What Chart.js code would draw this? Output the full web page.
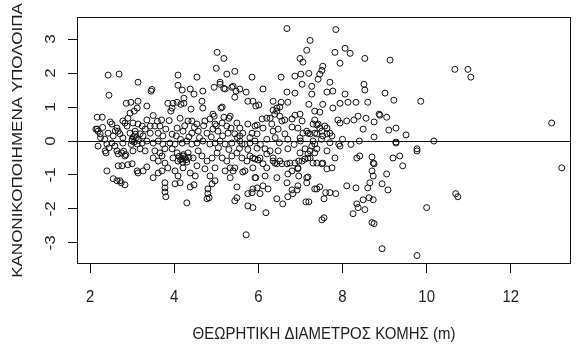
<!DOCTYPE html>
<html>
<head>
<meta charset="utf-8">
<script src="https://cdn.jsdelivr.net/npm/chart.js@4"></script>
<style>
  body { margin: 0; background: #fff; }
  canvas { display: block; }
</style>
</head>
<body>
<canvas id="myChart" width="576" height="347"></canvas>
<script>
// δεδομένα: διάμετρος κόμης (m) και κανονικοποιημένα υπόλοιπα, διαβασμένα από το γράφημα
const diameter = [
  2.43,2.69,2.45,3.14,3.45,3.47,2.86,2.97,3.14,3.35,2.17,2.29,4.09,4.09,4.19,4.38,4.47,4.54,4.68,4.66,
  3.85,3.97,4.07,4.16,4.23,3.92,4.40,4.23,5.02,5.18,5.00,5.09,5.18,4.95,5.25,5.44,5.37,5.47,5.44,5.11,
  4.95,5.18,5.30,
  2.95,3.05,3.12,2.90,2.78,2.48,2.52,2.14,2.19,2.64,2.67,2.83,2.88,3.02,3.14,3.24,3.31,3.43,3.54,3.66,
  2.43,2.55,2.71,2.78,2.95,3.07,3.19,3.26,3.43,3.62,3.73,2.19,2.40,2.52,2.59,2.78,3.00,3.12,3.24,3.35,
  3.50,3.62,3.73,2.36,2.64,2.67,2.83,3.02,3.19,3.31,3.54,3.66,3.78,3.50,3.62,3.71,3.78,2.67,2.76,2.90,
  3.00,3.12,3.14,3.26,3.35,2.40,3.50,3.62,3.71,2.55,2.64,2.71,2.83,3.78,3.78,3.78,3.80,
  5.85,5.09,5.21,5.40,5.56,5.71,3.95,4.68,5.14,4.92,5.33,5.75,5.87,5.94,4.14,4.33,4.42,4.54,4.73,4.85,
  4.97,5.14,5.25,5.49,5.56,5.75,5.92,4.07,4.21,4.42,4.57,4.78,4.92,5.04,5.28,5.44,5.63,5.85,5.97,3.90,
  4.02,4.19,4.30,4.42,4.54,4.68,4.85,4.97,5.09,5.21,5.37,5.56,5.68,5.80,5.92,3.95,4.07,3.97,4.09,4.21,
  4.33,4.45,4.57,4.66,4.78,4.90,5.02,5.14,5.25,5.37,5.49,5.61,5.73,5.80,5.92,3.85,4.02,4.21,4.38,4.54,
  4.73,4.97,5.21,5.44,5.68,5.87,4.09,4.50,4.85,5.33,5.92,4.02,4.38,4.80,4.97,5.49,5.87,4.80,4.78,5.49,
  5.44,5.75,5.87,4.30,2.74,4.14,4.47,4.83,4.90,
  6.68,7.84,7.23,7.15,6.99,7.06,7.82,8.06,8.18,7.94,8.53,9.13,6.54,6.87,7.01,7.20,7.46,7.51,7.53,7.04,
  7.27,7.42,7.70,7.63,7.77,8.06,8.51,8.53,9.01,9.22,6.11,6.68,6.87,7.27,6.01,6.35,6.54,6.70,7.20,7.34,
  7.46,7.53,7.77,7.94,8.13,8.32,8.60,7.89,8.10,8.27,8.37,8.56,8.75,8.87,9.05,8.49,8.75,9.10,9.27,6.35,
  6.44,6.51,6.39,6.51,6.87,6.99,6.63,6.80,6.94,7.34,7.39,7.46,7.63,7.70,7.75,7.34,7.23,7.06,6.99,6.09,
  6.20,5.97,6.11,6.35,6.47,6.63,5.56,5.61,9.27,9.27,
  9.20,9.36,8.34,8.41,8.70,8.73,8.75,8.70,8.73,8.65,8.94,9.05,9.08,8.10,8.32,8.60,8.63,8.73,8.49,8.34,
  8.37,8.53,8.25,8.70,8.75,8.94,5.71,7.51,7.56,7.13,7.20,7.56,6.18,5.75,5.85,6.04,5.97,6.11,6.23,6.44,
  6.58,6.70,6.82,6.94,6.92,7.15,7.18,7.39,7.46,7.60,7.70,7.84,6.80,5.94,6.16,6.44,6.70,6.80,6.94,7.15,
  6.96,6.44,6.51,6.68,6.87,6.96,7.11,7.23,7.39,7.53,7.63,7.75,7.82,7.91,7.39,7.63,7.11,6.99,7.18,7.27,
  7.34,6.28,6.35,6.39,6.20,6.11,5.99,5.87,5.63,5.40,5.33,
  10.67,10.98,11.05,9.86,8.89,9.51,12.97,10.17,9.77,9.77,9.43,10.00,10.69,10.74,13.21,9.77,
  6.28,6.44,6.32,6.56,6.80,7.04,7.15,7.30,7.51,7.18,7.39,7.53,7.63,7.42,7.58,7.94,
  5.97,6.16,6.47,6.70,7.23,7.34,6.04,6.20,6.35,6.56,6.75,7.04,7.18,7.30,7.51,7.94,6.68,6.94,7.34,
  4.15,4.20,4.25,4.12,4.30,4.22,4.18,4.28,4.35,3.00,3.05,3.10,2.98,3.08,3.15,3.03,2.75,2.80,2.85,
  5.80,6.05,6.20,6.40,6.50,6.70,6.85,7.00,7.30,7.50,7.70,8.00,8.20,8.40,
  2.25,2.30,2.35,2.45,2.60,2.38,2.17,2.24,
  4.05,4.15,4.25,4.35,4.48,4.60,4.70,4.88,5.00,5.15,5.35,5.50,3.80,3.88,3.95,3.70,
  5.05,5.30,5.55,5.75,3.35,3.50,3.60
];
const residual = [
  1.94,1.97,1.35,1.73,1.47,1.52,1.11,1.14,1.17,1.03,0.70,0.70,1.94,1.64,1.50,1.53,1.38,1.88,1.47,1.17,
  1.11,1.11,1.14,1.08,1.11,0.88,0.94,1.26,2.61,2.43,2.14,1.73,1.55,1.58,1.97,2.05,1.58,1.47,1.29,0.97,
  0.73,0.70,0.67,
  0.82,0.88,0.97,0.67,0.59,0.56,0.50,0.35,0.29,0.38,0.29,0.53,0.44,0.53,0.50,0.44,0.35,0.44,0.44,0.44,
  0.23,0.15,0.21,0.09,0.23,0.29,0.21,0.15,0.23,0.23,0.15,-0.15,-0.09,-0.06,-0.15,-0.06,0.00,-0.09,-0.06,0.00,
  -0.06,0.00,-0.09,-0.29,-0.29,-0.38,-0.44,-0.29,-0.23,-0.29,-0.29,-0.35,-0.23,-0.50,-0.59,-0.44,-0.65,-0.73,-0.73,-0.70,
  -0.67,-0.88,-0.94,-0.88,-0.76,-0.88,-1.08,-0.94,-0.88,-1.11,-1.17,-1.17,-1.29,-1.23,-1.38,-1.50,-1.64,
  1.88,1.67,1.53,1.61,1.53,1.44,0.97,0.97,1.00,0.79,0.73,1.17,1.17,1.03,0.67,0.59,0.59,0.50,0.59,0.65,
  0.50,0.53,0.44,0.53,0.38,0.50,0.44,0.38,0.29,0.23,0.29,0.23,0.35,0.29,0.23,0.21,0.23,0.23,0.21,-0.06,
  -0.09,-0.06,0.00,-0.09,-0.06,0.00,-0.09,-0.06,0.00,-0.09,-0.06,0.00,-0.09,-0.06,0.00,-0.23,-0.35,-0.50,-0.59,-0.44,
  -0.35,-0.50,-0.29,-0.44,-0.59,-0.50,-0.35,-0.50,-0.59,-0.44,-0.35,-0.50,-0.59,-0.44,-0.53,-0.79,-0.88,-0.79,-0.94,-0.73,
  -0.82,-0.79,-0.88,-0.79,-0.88,-0.79,-1.03,-1.03,-1.03,-1.08,-1.08,-1.26,-1.35,-1.41,-1.17,-1.35,-1.41,-1.55,-1.70,-1.67,
  -1.76,-1.55,-1.96,-1.82,-1.23,-1.23,-1.29,-1.67,-1.26,
  3.31,3.28,2.96,2.67,2.43,2.32,2.61,2.73,2.58,2.29,2.43,2.38,1.88,1.91,1.97,1.99,1.97,2.08,2.20,1.67,
  1.61,1.82,1.73,1.44,1.47,1.38,1.67,1.50,1.41,1.20,1.53,1.44,1.41,1.38,1.06,1.17,1.14,1.14,1.08,0.88,
  0.85,1.08,0.97,1.11,1.14,1.14,1.14,0.62,0.59,0.62,0.73,0.67,0.56,0.79,0.70,0.35,0.12,0.32,0.38,0.91,
  0.97,1.00,0.79,0.73,0.76,0.79,0.62,0.41,0.38,0.62,0.47,0.38,0.38,0.23,0.15,0.23,0.21,0.23,0.09,0.65,
  0.67,0.47,0.38,0.29,0.35,0.21,0.15,-0.09,-0.06,-0.03,
  -0.50,-0.44,-0.50,-0.44,-0.47,-0.65,-0.67,-0.88,-1.03,-1.23,-1.26,-0.97,-1.44,-1.32,-1.38,-1.38,-1.67,-1.73,-1.73,-1.85,
  -1.96,-2.02,-2.14,-2.40,-2.43,-3.17,-2.76,-2.32,-2.26,-1.79,-1.79,-1.70,-2.11,-1.91,-1.52,-1.55,-1.38,-1.32,-1.41,-1.70,
  -1.85,-1.64,-1.55,-1.32,-1.44,-1.23,-1.06,-1.41,-1.35,-1.52,-1.52,-1.55,-1.44,-1.08,-1.03,-1.08,-0.97,-0.88,-0.82,-1.08,
  -1.03,-0.67,-0.59,-0.67,-0.65,-0.59,-0.53,-0.50,-0.65,-0.65,-0.82,-0.79,-0.50,-0.09,-0.23,-0.29,-0.23,-0.35,-0.38,-0.15,
  -0.09,-0.29,-0.50,-0.65,-0.79,-0.67,-0.56,-0.50,-0.91,-0.88,-0.79,
  2.11,2.11,1.88,1.17,0.76,0.18,0.53,0.00,-0.23,-0.29,-0.73,-1.96,-1.55,-1.64,-0.79,-3.37,
  0.67,0.88,0.50,0.59,0.65,0.59,0.29,0.50,0.29,0.23,0.21,0.15,0.21,0.50,0.44,0.53,
  -0.21,-0.23,-0.29,-0.23,-0.29,-0.35,-0.50,-0.38,-0.59,-0.67,-0.65,-0.59,-0.50,-0.65,-0.67,-0.15,-1.23,-0.79,-1.41,
  -0.55,-0.62,-0.50,-0.45,-0.62,-0.40,-0.52,-0.55,-0.48,0.05,-0.03,0.10,-0.10,0.20,0.02,0.12,-0.35,-0.30,-0.40,
  0.10,-0.10,0.05,0.10,-0.05,0.05,-0.10,0.00,0.00,0.05,-0.05,0.05,-0.10,0.00,
  0.10,0.40,0.05,-0.20,0.30,-0.35,0.35,0.21,
  0.15,0.05,0.45,0.12,0.40,0.10,0.45,0.12,0.45,0.15,0.38,0.10,0.35,0.60,0.20,0.62,
  -0.20,-0.25,-0.22,-0.25,0.62,0.75,0.58
];

const xTicks = [2, 4, 6, 8, 10, 12];
const yTicks = [-3, -2, -1, 0, 1, 2, 3];
const xTitle = 'ΘΕΩΡΗΤΙΚΗ ΔΙΑΜΕΤΡΟΣ ΚΟΜΗΣ (m)';
const yTitle = 'ΚΑΝΟΝΙΚΟΠΟΙΗΜΕΝΑ ΥΠΟΛΟΙΠΑ';

const points = diameter.map((d, i) => ({x: d, y: residual[i]}));

const textFont = '17px "Liberation Sans", Arial, sans-serif';
const squeeze = 0.88; // τα γράμματα του πρωτοτύπου είναι λίγο στενότερα

// κουτί, γραμμή στο 0 και κείμενα των αξόνων
const rAxes = {
  id: 'rAxes',
  beforeDatasetsDraw(chart) {
    const {ctx, chartArea: a, scales: {y}} = chart;
    const y0 = Math.round(y.getPixelForValue(0)) + 0.5;
    ctx.save();
    ctx.strokeStyle = '#111';
    ctx.lineWidth = 1;
    ctx.beginPath();
    ctx.moveTo(a.left, y0);
    ctx.lineTo(a.right, y0);
    ctx.stroke();
    ctx.restore();
  },
  afterDraw(chart) {
    const {ctx, chartArea: a, scales: {x, y}} = chart;
    ctx.save();
    ctx.strokeStyle = '#111';
    ctx.lineWidth = 1;
    ctx.strokeRect(a.left + 0.5, a.top + 0.5, a.right - a.left - 1, a.bottom - a.top - 1);

    ctx.fillStyle = '#1e1e1e';
    ctx.font = textFont;
    ctx.textAlign = 'center';

    ctx.textBaseline = 'alphabetic';
    xTicks.forEach(v => {
      ctx.save();
      ctx.translate(x.getPixelForValue(v), 302);
      ctx.scale(squeeze, 1);
      ctx.fillText(String(v), 0, 0);
      ctx.restore();
    });
    ctx.save();
    ctx.translate((a.left + a.right) / 2, 339);
    ctx.scale(squeeze, 1);
    ctx.fillText(xTitle, 0, 0);
    ctx.restore();

    ctx.textBaseline = 'middle';
    yTicks.forEach(v => {
      ctx.save();
      ctx.translate(51, y.getPixelForValue(v));
      ctx.scale(squeeze, 1);
      ctx.rotate(-Math.PI / 2);
      ctx.fillText(String(v), 0, 0);
      ctx.restore();
    });
    ctx.save();
    ctx.translate(18, (a.top + a.bottom) / 2);
    ctx.scale(squeeze, 1);
    ctx.rotate(-Math.PI / 2);
    ctx.fillText(yTitle, 0, 0);
    ctx.restore();

    ctx.restore();
  }
};

const graphArea = document.getElementById('myChart').getContext('2d');

new Chart(graphArea, {
  type: 'scatter',
  data: {
    datasets: [{
      data: points,
      pointStyle: 'circle',
      pointRadius: 3,
      pointBorderWidth: 1,
      borderColor: '#111',
      backgroundColor: 'rgba(0,0,0,0)'
    }]
  },
  options: {
    responsive: false,
    animation: false,
    devicePixelRatio: 1,
    layout: {padding: {top: 17, right: 5, left: 0, bottom: 0}},
    plugins: {legend: {display: false}, tooltip: {enabled: false}},
    scales: {
      x: {
        type: 'linear',
        min: 1.69,
        max: 13.43,
        afterBuildTicks: s => { s.ticks = xTicks.map(v => ({value: v})); },
        afterFit: s => { s.height = 83; },
        ticks: {display: false},
        border: {display: false},
        grid: {drawOnChartArea: false, drawTicks: true, tickLength: 9, color: '#111', lineWidth: 1}
      },
      y: {
        type: 'linear',
        min: -3.62,
        max: 3.65,
        afterBuildTicks: s => { s.ticks = yTicks.map(v => ({value: v})); },
        afterFit: s => { s.width = 77; },
        ticks: {display: false},
        border: {display: false},
        grid: {drawOnChartArea: false, drawTicks: true, tickLength: 9, color: '#111', lineWidth: 1}
      }
    }
  },
  plugins: [rAxes]
});
</script>
</body>
</html>
